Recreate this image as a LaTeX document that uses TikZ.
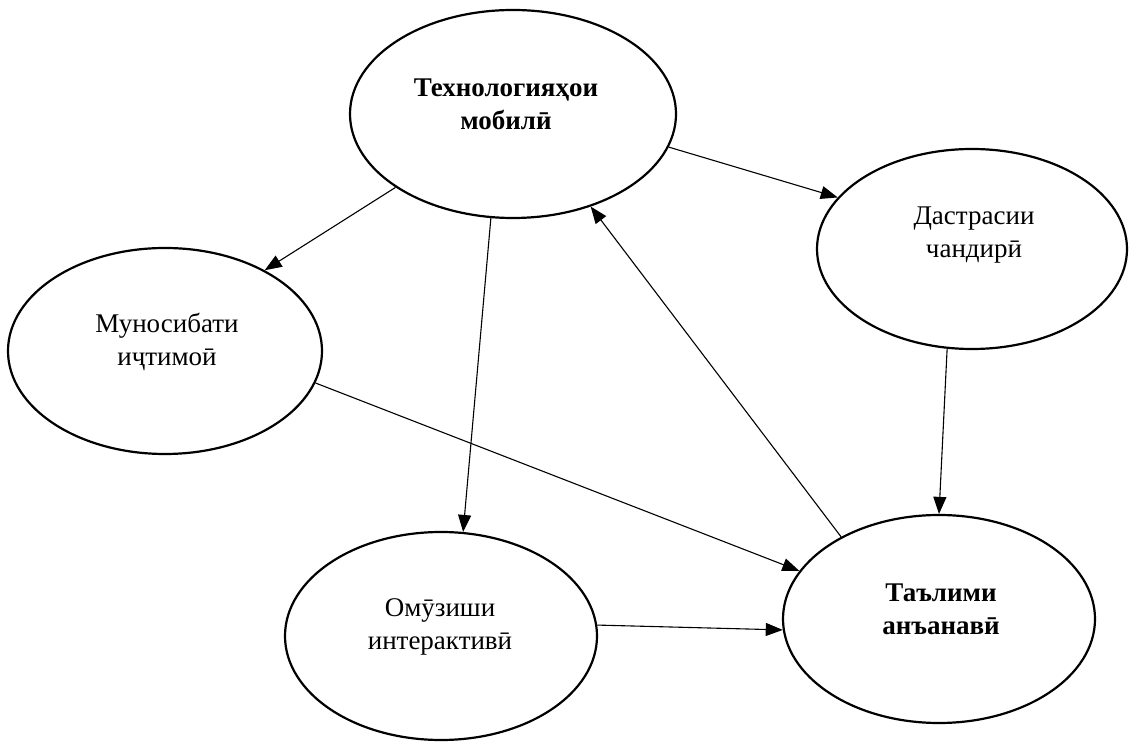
\documentclass[tikz,border=0pt]{standalone}
\usepackage{fontspec}
\setmainfont{Liberation Serif}
\usetikzlibrary{arrows.meta,shapes.geometric}
\begin{document}
\begin{tikzpicture}[x=1pt,y=1pt,
  ell/.style={draw, ellipse, line width=2.2pt, inner sep=0pt},
  lbl/.style={align=center, font=\fontsize{27}{33}\selectfont, inner sep=0pt},
  blbl/.style={lbl, font=\fontsize{27}{33}\selectfont\bfseries},
  conn/.style={line width=1.1pt, -{Triangle[length=17pt,width=13pt]}}]
\useasboundingbox[fill=white] (0,0) rectangle (1129,742);
% ellipses
\node[ell, minimum width=326pt, minimum height=208pt] (e1) at (513,628) {};
\node[ell, minimum width=310pt, minimum height=200pt] (e2) at (972,493) {};
\node[ell, minimum width=314pt, minimum height=206pt] (e3) at (165,391) {};
\node[ell, minimum width=312pt, minimum height=208pt] (e4) at (441,106) {};
\node[ell, minimum width=312pt, minimum height=208pt] (e5) at (939,123) {};
% labels
\node[blbl] (t1) at (506,638) {Технологияҳои\\мобилӣ};
\node[lbl] (t2) at (974,507) {Дастрасии\\чандирӣ};
\node[lbl] (t3) at (167,400) {Муносибати\\иҷтимоӣ};
\node[lbl] (t4) at (440,115) {Омӯзиши\\интерактивӣ};
\node[blbl] (t5) at (941,133) {Таълими\\анъанавӣ};
% connectors
\draw[conn] (e1.-12) -- (e2.159);
\draw[conn] (e1.212) -- (e3.39);
\draw[conn] (e1.258.6) -- (e4.78.6);
\draw[conn] (e5.140.4) -- (e1.310.3);
\draw[conn] (e2.256.4) -- (e5.90.5);
\draw[conn] (e3.-12) -- (e5.161.4);
\draw[conn] (e4.4.8) -- (e5.184.8);
\end{tikzpicture}
\end{document}
